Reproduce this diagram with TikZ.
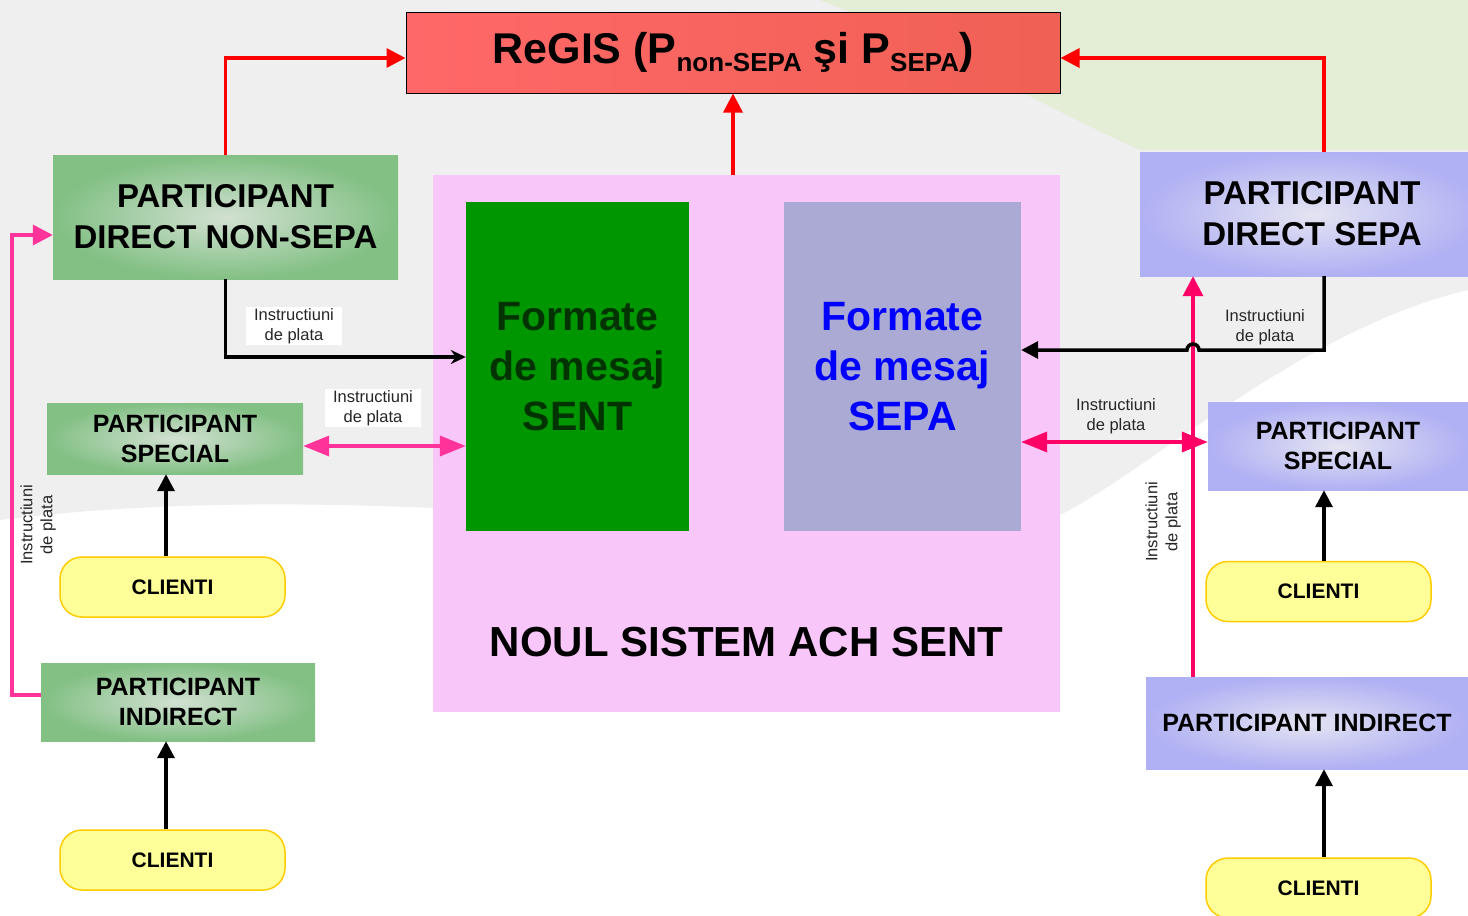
\documentclass[tikz,border=0pt]{standalone}
\usepackage{fontspec}
\setmainfont{Liberation Sans}
\usetikzlibrary{arrows.meta}

\definecolor{bggray}{RGB}{239,239,239}
\definecolor{bggreen}{RGB}{228,237,214}
\definecolor{rgleft}{RGB}{255,104,104}
\definecolor{rgright}{RGB}{240,96,84}
\definecolor{grout}{RGB}{130,192,132}
\definecolor{grin}{RGB}{210,224,210}
\definecolor{blout}{RGB}{176,176,244}
\definecolor{blin}{RGB}{228,228,242}
\definecolor{sentgreen}{RGB}{0,150,0}
\definecolor{senttxt}{RGB}{0,51,0}
\definecolor{sepabox}{RGB}{170,170,212}
\definecolor{noulpink}{RGB}{248,198,248}
\definecolor{clfill}{RGB}{255,255,153}
\definecolor{cldraw}{RGB}{255,204,0}
\definecolor{pinkL}{RGB}{255,51,153}
\definecolor{pinkR}{RGB}{255,0,102}

\newcommand{\regsub}[1]{\raisebox{-8pt}{\fontsize{26}{26}\selectfont #1}}

\begin{document}
\begin{tikzpicture}[x=1pt,y=-1pt,
  box/.style={rectangle,inner sep=0pt,align=center,font=\bfseries},
  greenbox/.style={box,inner color=grin,outer color=grout},
  bluebox/.style={box,inner color=blin,outer color=blout},
  bigtxt/.style={font=\fontsize{33}{41}\selectfont\bfseries},
  midtxt/.style={font=\fontsize{25}{30}\selectfont\bfseries},
  fmtxt/.style={font=\fontsize{41}{50}\selectfont\bfseries},
  clientbox/.style={box,rounded corners=22pt,fill=clfill,draw=cldraw,line width=1.5pt,
    minimum width=225pt,minimum height=60pt,font=\fontsize{21}{21}\selectfont\bfseries},
  lbl/.style={align=center,font=\fontsize{16.5}{20}\selectfont,text=black!85,inner xsep=8pt,inner ysep=1pt},
  redarrow/.style={draw=red,line width=3.5pt,-{Triangle[length=19pt,width=19pt]}},
  blkarrow/.style={draw=black,line width=3.5pt,-{Triangle[length=17pt,width=17pt]}},
  pinkarrow/.style={line width=3.5pt,-{Triangle[length=20pt,width=20pt]}},
  pinkboth/.style={line width=3.5pt,{Triangle[length=26pt,width=20pt]}-{Triangle[length=26pt,width=20pt]}}]

\useasboundingbox (0,0) rectangle (1468,916);
% background
\fill[white] (0,0) rectangle (1468,916);
\fill[bggray] (0,0) -- (1468,0) -- (1468,290) .. controls (1300,330) and (1150,470) .. (1060,515)
  .. controls (800,560) and (400,470) .. (0,520) -- cycle;
\fill[bggreen] (820,0) -- (1468,0) -- (1468,150) -- (1140,150) .. controls (1050,110) and (950,50) .. (820,0) -- cycle;

\coordinate (lcol) at (166,0);
\coordinate (rcol) at (1324,0);
\coordinate (rv) at (1193,0);

% system in the middle
\node[rectangle,fill=noulpink,inner sep=0pt,minimum width=627pt,minimum height=537pt] (noul) at (746.5,443.5) {};
\node[box,fmtxt,fill=sentgreen,text=senttxt,minimum width=223pt,minimum height=329pt] (sent) at (577.5,366.5) {Formate\\de mesaj\\SENT};
\node[box,fmtxt,fill=sepabox,text=blue,minimum width=237pt,minimum height=329pt] (sepa) at (902.5,366.5) {Formate\\de mesaj\\SEPA};
\node[font=\fontsize{42}{42}\selectfont\bfseries] (noultxt) at (746.5,642) {NOUL SISTEM ACH SENT};

\node[box,draw=black,line width=1pt,left color=rgleft,right color=rgright,minimum width=654pt,minimum height=81pt,
  font=\fontsize{43}{43}\selectfont\bfseries] (regis) at (733,52.5) {ReGIS (P\regsub{non-SEPA} şi P\regsub{SEPA})};

% left side
\node[greenbox,bigtxt,minimum width=345pt,minimum height=124pt] (pdn) at (225.5,217) {PARTICIPANT\\DIRECT NON-SEPA};
\node[greenbox,midtxt,minimum width=256pt,minimum height=71pt] (psl) at (175,438.5) {PARTICIPANT\\SPECIAL};
\node[clientbox] (cl1) at (172.5,587) {CLIENTI};
\node[greenbox,midtxt,minimum width=274pt,minimum height=78pt] (pil) at (178,702) {PARTICIPANT\\INDIRECT};
\node[clientbox] (cl2) at (172.5,860) {CLIENTI};

% right side
\node[bluebox,bigtxt,minimum width=344pt,minimum height=124pt] (pds) at (1312,214) {PARTICIPANT\\DIRECT SEPA};
\node[bluebox,midtxt,minimum width=260pt,minimum height=88pt] (psr) at (1338,446) {PARTICIPANT\\SPECIAL};
\node[clientbox] (cr1) at (1318.5,591.5) {CLIENTI};
\node[bluebox,midtxt,minimum width=322pt,minimum height=92pt] (pir) at (1307,723) {PARTICIPANT INDIRECT};
\node[clientbox] (cr2) at (1318.5,888) {CLIENTI};

% to ReGIS
\draw[redarrow] (pdn.north) |- ([yshift=-5.5pt]regis.west);
\draw[redarrow] (rcol |- pds.north) |- ([yshift=-5.5pt]regis.east);
\draw[redarrow] (regis.south |- noul.north) -- (regis.south);

% payment instructions
\draw[draw=black,line width=3.5pt,-{Stealth[length=15pt,width=14pt]}] (pdn.south) |- ([yshift=9.5pt]sent.west);
\node[lbl,fill=white] (l1) at (294,326) {Instructiuni\\de plata};
\draw[pinkboth,draw=pinkL] (psl.east |- 0,446) -- (sent.west |- 0,446);
\node[lbl,fill=white] (l2) at (373,408) {Instructiuni\\de plata};
\draw[pinkarrow,draw=pinkL] ([yshift=7pt]pil.west) -- ++(-29,0) |- ([yshift=-18pt]pdn.west);
\node[lbl,rotate=90] (l3) at (38,525) {Instructiuni\\de plata};
\draw[blkarrow] (lcol |- cl1.north) -- (lcol |- psl.south);
\draw[blkarrow] (lcol |- cl2.north) -- (lcol |- pil.south);

\draw[pinkarrow,draw=pinkR] (rv |- pir.north) -- (rv |- pds.south);
\node[lbl,rotate=90,fill=white] (l6) at (1163,522) {Instructiuni\\de plata};
\draw[blkarrow] (rcol |- pds.south) |- (1199,350) arc[start angle=0,end angle=-180,radius=6] -- (sepa.east |- 0,350);
\node[lbl] (l4) at (1265,327) {Instructiuni\\de plata};
\draw[pinkboth,draw=pinkR] (sepa.east |- 0,442) -- (psr.west |- 0,442);
\node[lbl] (l5) at (1116,416) {Instructiuni\\de plata};
\draw[blkarrow] (rcol |- cr1.north) -- (rcol |- psr.south);
\draw[blkarrow] (rcol |- cr2.north) -- (rcol |- pir.south);
\end{tikzpicture}
\end{document}
